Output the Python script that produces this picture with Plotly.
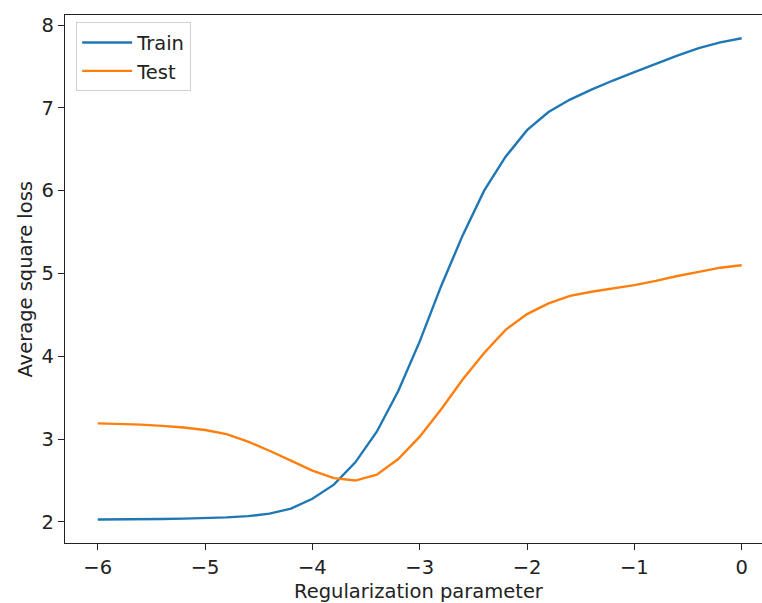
import plotly.graph_objects as go

x_vals = [-6.0, -5.8, -5.6, -5.4, -5.2, -5.0, -4.8, -4.6, -4.4, -4.2, -4.0, -3.8, -3.6, -3.4, -3.2, -3.0,
          -2.8, -2.6, -2.4, -2.2, -2.0, -1.8, -1.6, -1.4, -1.2, -1.0, -0.8, -0.6, -0.4, -0.2, 0.0]
train_loss = [2.03, 2.03, 2.03, 2.035, 2.04, 2.045, 2.055, 2.07, 2.10, 2.16, 2.28, 2.45, 2.72, 3.09, 3.58, 4.18,
              4.85, 5.46, 6.00, 6.41, 6.73, 6.95, 7.10, 7.22, 7.33, 7.43, 7.53, 7.63, 7.72, 7.79, 7.84]
test_loss = [3.19, 3.185, 3.175, 3.16, 3.14, 3.11, 3.06, 2.97, 2.86, 2.74, 2.62, 2.53, 2.50, 2.57, 2.76, 3.03,
             3.36, 3.72, 4.04, 4.32, 4.51, 4.64, 4.73, 4.78, 4.82, 4.86, 4.91, 4.97, 5.02, 5.07, 5.10]
x_ticks = [-6, -5, -4, -3, -2, -1, 0]
x_tick_labels = ["\u22126", "\u22125", "\u22124", "\u22123", "\u22122", "\u22121", "0"]
y_ticks = [2, 3, 4, 5, 6, 7, 8]

FONT = "DejaVu Sans"
FS = 19.5
TXT = "#222222"
fig = go.Figure()
fig.add_trace(go.Scatter(x=x_vals, y=train_loss, mode="lines", name="Train",
                         line=dict(color="#1f77b4", width=2.4)))
fig.add_trace(go.Scatter(x=x_vals, y=test_loss, mode="lines", name="Test",
                         line=dict(color="#ff7f0e", width=2.4)))

fig.update_layout(
    width=762, height=603,
    margin=dict(l=65, r=0, t=15, b=60),
    paper_bgcolor="white", plot_bgcolor="white",
    font=dict(family=FONT, size=FS, color=TXT),
    showlegend=True,
    legend=dict(x=0.016, y=0.986, xanchor="left", yanchor="top",
                bgcolor="rgba(255,255,255,0.8)", bordercolor="#d0d0d0", borderwidth=1,
                font=dict(family=FONT, size=FS, color=TXT),
                tracegroupgap=0, itemwidth=50),
    xaxis=dict(range=[-6.305, 0.189], tickmode="array", tickvals=x_ticks, ticktext=x_tick_labels,
               showgrid=False, zeroline=False, showline=True, mirror=True, linecolor=TXT,
               linewidth=1.2, ticks="outside", ticklen=6, tickwidth=1.2, tickcolor=TXT,
               tickfont=dict(family=FONT, size=FS, color=TXT)),
    yaxis=dict(range=[1.746, 8.121], tickmode="array", tickvals=y_ticks,
               showgrid=False, zeroline=False, showline=True, mirror=False, linecolor=TXT,
               linewidth=1.2, ticks="outside", ticklen=6, tickwidth=1.2, tickcolor=TXT,
               tickfont=dict(family=FONT, size=FS, color=TXT)),
    annotations=[
        dict(text="Regularization parameter", xref="paper", yref="paper", x=(419 - 65) / 697, y=-0.0928,
             xanchor="center", yanchor="middle", showarrow=False,
             font=dict(family=FONT, size=FS, color=TXT)),
        dict(text="Average square loss", xref="paper", yref="paper", x=-0.058, y=0.5,
             xanchor="center", yanchor="middle", showarrow=False, textangle=-90,
             font=dict(family=FONT, size=FS, color=TXT)),
    ],
)

fig.write_html("out.html")
